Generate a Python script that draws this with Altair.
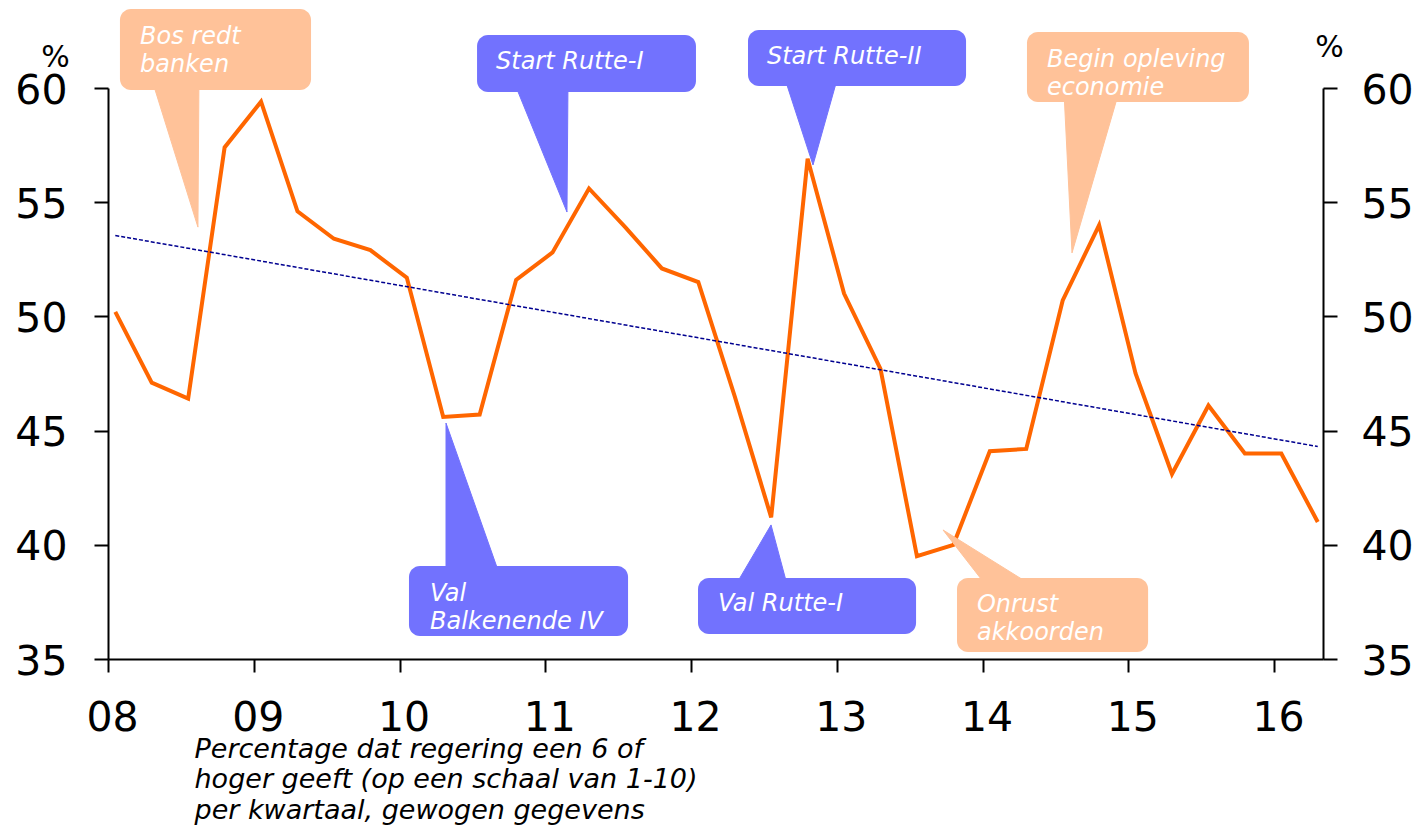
import altair as alt
import pandas as pd

# ---- data -------------------------------------------------------------
quarters = [
    "2008-1", "2008-2", "2008-3", "2008-4",
    "2009-1", "2009-2", "2009-3", "2009-4",
    "2010-1", "2010-2", "2010-3", "2010-4",
    "2011-1", "2011-2", "2011-3", "2011-4",
    "2012-1", "2012-2", "2012-3", "2012-4",
    "2013-1", "2013-2", "2013-3", "2013-4",
    "2014-1", "2014-2", "2014-3", "2014-4",
    "2015-1", "2015-2", "2015-3", "2015-4",
    "2016-1", "2016-2",
]
values = [
    50.2, 47.1, 46.4, 57.4,
    59.4, 54.6, 53.4, 52.9,
    51.7, 45.6, 45.7, 51.6,
    52.8, 55.6, 53.9, 52.1,
    51.5, 46.5, 41.2, 56.9,
    51.0, 47.7, 39.5, 40.0,
    44.1, 44.2, 50.7, 54.0,
    47.5, 43.1, 46.1, 44.0,
    44.0, 41.0,
]
year_ticks = [2008, 2009, 2010, 2011, 2012, 2013, 2014, 2015, 2016]
pct_ticks = [35, 40, 45, 50, 55, 60]
caption = [
    "Percentage dat regering een 6 of",
    "hoger geeft (op een schaal van 1-10)",
    "per kwartaal, gewogen gegevens",
]

# callouts (positions in data units: decimal years / percent)
labels = ["Bos redt\nbanken", "Start Rutte-I", "Start Rutte-II",
          "Begin opleving\neconomie", "Val\nBalkenende IV", "Val Rutte-I",
          "Onrust\nakkoorden"]
kinds = ["peach", "blue", "blue", "peach", "blue", "blue", "peach"]
box_x0 = [2008.082, 2010.532, 2012.391, 2014.305, 2010.065, 2012.048, 2013.825]
box_x1 = [2009.393, 2012.034, 2013.887, 2015.828, 2011.568, 2013.544, 2015.136]
box_top = [63.46, 62.32, 62.54, 62.45, 39.07, 38.55, 38.55]
box_bottom = [59.91, 59.83, 60.09, 59.39, 36.01, 36.10, 35.31]
text_x = [2008.220, 2010.662, 2012.521, 2014.442, 2010.209, 2012.185, 2013.962]
text_y = [61.93, 60.83, 61.05, 60.92, 37.54, 37.10, 37.06]
tip_x = [2008.617, 2011.149, 2012.837, 2014.614, 2010.319, 2012.549, 2013.729]
tip_y = [53.91, 54.57, 56.63, 52.78, 45.33, 40.87, 40.65]
base_xa = [2008.302, 2010.786, 2012.638, 2014.559, 2010.319, 2012.295, 2014.038]
base_xb = [2008.624, 2011.156, 2013.009, 2014.936, 2010.690, 2012.665, 2014.367]
base_y = [60.35, 60.26, 60.53, 59.83, 38.63, 38.11, 38.11]

colors = {"peach": "#FFC299", "blue": "#7272FE"}

# ---- tables -----------------------------------------------------------
xpos = [int(q[:4]) + (int(q[-1]) - 1) * 0.25 + 0.05 for q in quarters]
df = pd.DataFrame({"quarter": quarters, "x": xpos, "value": values})

boxes = pd.DataFrame({
    "id": list(range(len(labels))), "label": labels,
    "x0": box_x0, "x1": box_x1, "top": box_top, "bottom": box_bottom,
    "tx": text_x, "ty": text_y, "fill": [colors[k] for k in kinds],
})

tri_rows = []
for i in range(len(labels)):
    c = colors[kinds[i]]
    tri_rows.append({"id": i, "o": 0, "x": base_xa[i], "y": base_y[i], "fill": c})
    tri_rows.append({"id": i, "o": 1, "x": tip_x[i], "y": tip_y[i], "fill": c})
    tri_rows.append({"id": i, "o": 2, "x": base_xb[i], "y": base_y[i], "fill": c})
    tri_rows.append({"id": i, "o": 3, "x": base_xa[i], "y": base_y[i], "fill": c})
tris = pd.DataFrame(tri_rows)

# ---- scales / axes ----------------------------------------------------
x_scale = alt.Scale(domain=[2008, 2016.336], nice=False, zero=False)
y_scale = alt.Scale(domain=[35, 60], nice=False, zero=False)

FONT = "DejaVu Sans"
common_axis = dict(
    labelFont=FONT, labelFontSize=41, labelColor="black",
    domainColor="black", domainWidth=2, tickColor="black", tickWidth=2,
    grid=False, labelOverlap=False, labelFlush=False,
)

x_axis = alt.Axis(
    values=year_ticks, labelExpr="slice(toString(datum.value), 2)",
    tickSize=13, labelPadding=26, labelOffset=4,
    title=caption, titleX=86, titleY=98, titleAlign="left",
    titleAnchor="start", titleBaseline="alphabetic",
    titleFont=FONT, titleFontStyle="italic", titleFontSize=27,
    titleFontWeight="normal", titleLineHeight=30.5, titleColor="black",
    **common_axis,
)
y_left = alt.Axis(
    orient="left", values=pct_ticks, tickSize=14, labelPadding=27, labelOffset=3,
    title="%", titleAngle=0, titleX=-53, titleY=-31, titleAlign="center",
    titleBaseline="middle", titleFont=FONT, titleFontSize=30,
    titleFontWeight="normal", titleColor="black",
    **common_axis,
)
y_right = alt.Axis(
    orient="right", values=pct_ticks, tickSize=14, labelPadding=24, labelOffset=3,
    title="%", titleAngle=0, titleX=6, titleY=-41, titleAlign="center",
    titleBaseline="middle", titleFont=FONT, titleFontSize=30,
    titleFontWeight="normal", titleColor="black",
    **common_axis,
)

# ---- layers -----------------------------------------------------------
line = alt.Chart(df).mark_line(color="#FF6600", strokeWidth=4).encode(
    x=alt.X("x:Q", scale=x_scale, axis=x_axis),
    y=alt.Y("value:Q", scale=y_scale, axis=y_left),
)

trend = alt.Chart(df).transform_regression("x", "value").mark_line(
    color="#000090", strokeWidth=1.5, strokeDash=[4, 2]
).encode(
    x=alt.X("x:Q", scale=x_scale, axis=x_axis),
    y=alt.Y("value:Q", scale=y_scale, axis=y_right),
)

pointers = alt.Chart(tris).mark_line(strokeWidth=1, interpolate="linear").encode(
    x=alt.X("x:Q", scale=x_scale, axis=x_axis),
    y=alt.Y("y:Q", scale=y_scale, axis=None),
    fill=alt.Fill("fill:N", scale=None),
    stroke=alt.Stroke("fill:N", scale=None),
    detail="id:N",
    order=alt.Order("o:Q"),
)

rects = alt.Chart(boxes).mark_rect(cornerRadius=11).encode(
    x=alt.X("x0:Q", scale=x_scale, axis=x_axis),
    x2="x1:Q",
    y=alt.Y("top:Q", scale=y_scale, axis=None),
    y2="bottom:Q",
    fill=alt.Fill("fill:N", scale=None),
)

texts = alt.Chart(boxes).mark_text(
    align="left", baseline="alphabetic", font=FONT, fontStyle="italic",
    fontSize=24, color="white", lineBreak="\n", lineHeight=28,
).encode(
    x=alt.X("tx:Q", scale=x_scale, axis=x_axis),
    y=alt.Y("ty:Q", scale=y_scale, axis=None),
    text="label:N",
)

chart = alt.layer(line, trend, pointers, rects, texts).resolve_axis(
    y="independent"
).properties(
    width=1215, height=571,
    autosize=alt.AutoSizeParams(type="none"),
    padding={"left": 100, "top": 80, "right": 91, "bottom": 166},
    background="white",
).configure_view(strokeWidth=0)

chart.save("out.html", embed_options={"renderer": "svg", "actions": False})
